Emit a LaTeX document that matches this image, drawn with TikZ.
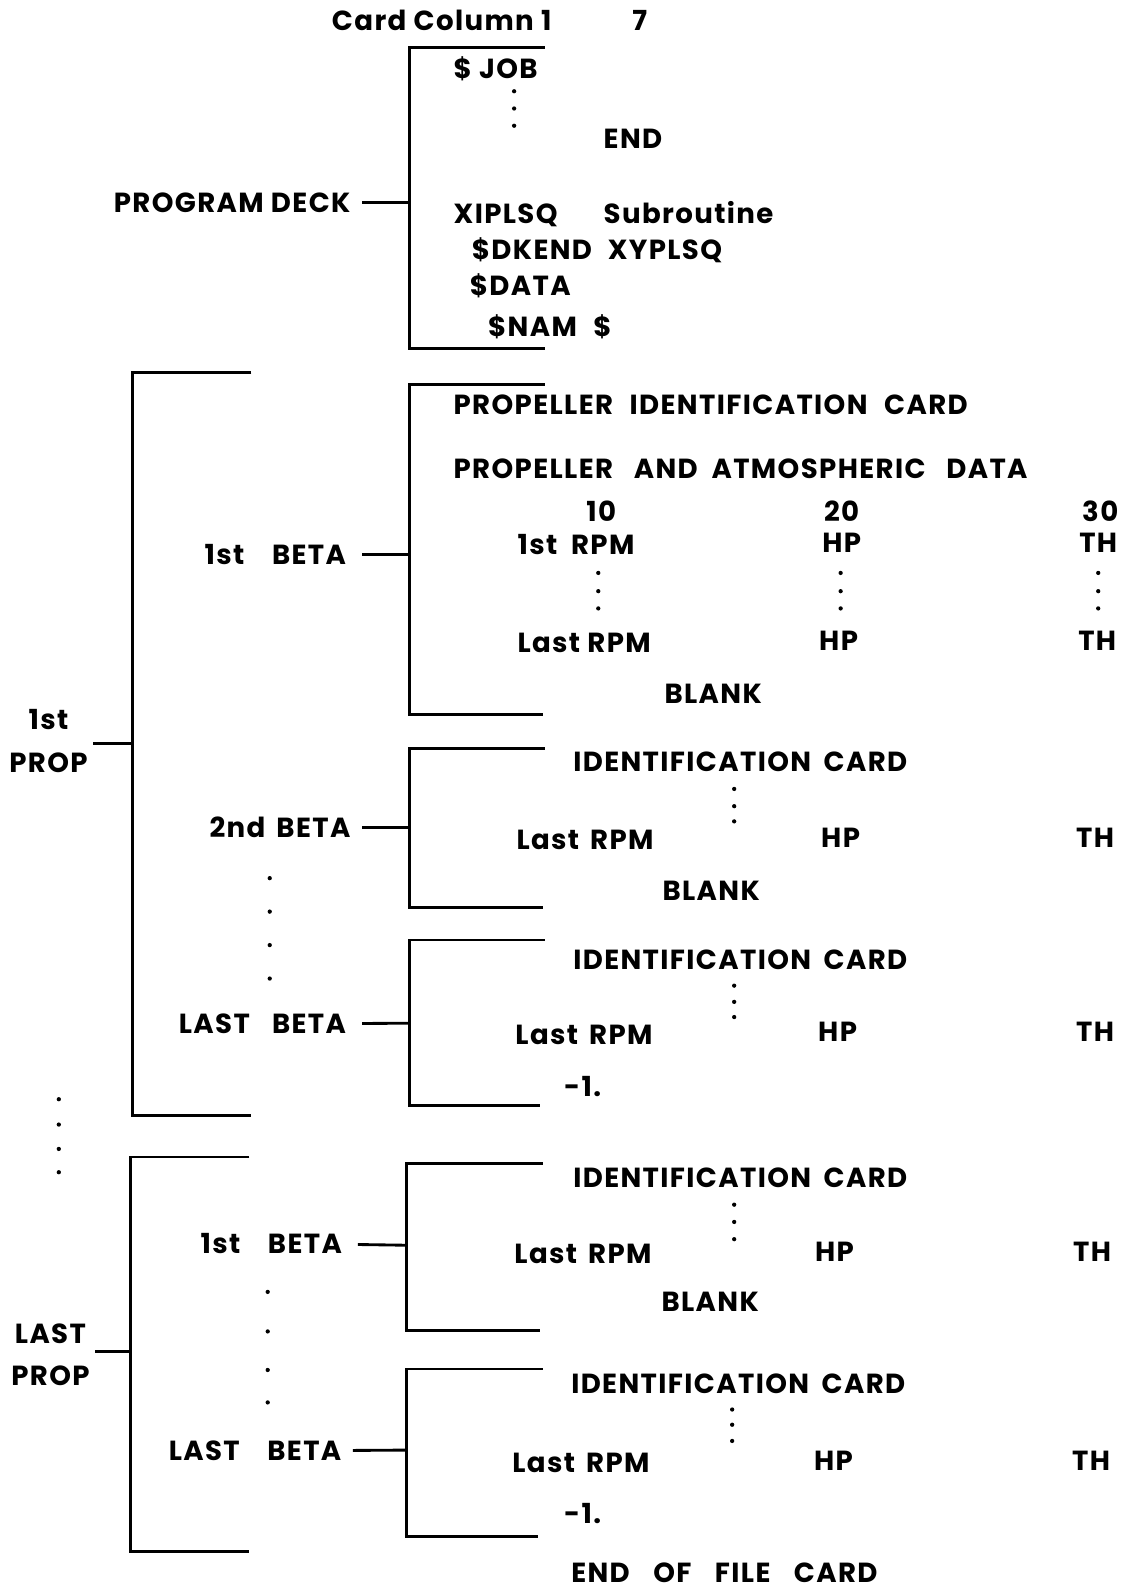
\documentclass[tikz,border=0pt]{standalone}
\usepackage{fontspec}
\setmainfont{Poppins}[LetterSpace=5]
\usetikzlibrary{positioning}
\newcommand\cardfont{\fontsize{15.5}{24}\selectfont\bfseries}
\tikzset{
  bracket/.style={line width=1.6pt},
  stub/.style={line width=1.6pt},
  cardtext/.style={anchor=west, inner sep=0pt, text height=11pt, text depth=0pt, font=\cardfont},
  colhead/.style={inner sep=0pt, text height=11pt, text depth=0pt, font=\cardfont},
  decklabel/.style={anchor=east, inner sep=0pt, outer sep=0pt, inner xsep=6.5pt,
    text height=11pt, text depth=0pt, font=\cardfont},
  proplabel/.style={anchor=east, inner sep=0pt, inner xsep=3pt, align=center, font=\cardfont},
  dot/.style={fill=black}
}
\begin{document}
\begin{tikzpicture}[x=0.02cm, y=-0.02cm]
  \useasboundingbox (0,0) rectangle (1113,1568);
  % heading
  \node[cardtext] (cardcol) at (327,20) {Card Column 1};
  \node[colhead] (colseven) at (631,20) {7};

  % program deck
  \coordinate (pdtop) at (537,47);
  \coordinate (pdmid) at (404,200);
  \coordinate (pdbot) at (537,344);
  \node[decklabel] (pdlab) at (357,200) {PROGRAM DECK};
  \draw[bracket] (pdtop) -| (pdmid) |- (pdbot);
  \draw[stub] (pdlab) -- (pdmid);
  \node[cardtext] (job) at (447,68) {\$ JOB};
  \foreach \y in {90,107,124} \fill[dot] (507,\y) circle (1.2pt);
  \node[cardtext] (endcard) at (595,137) {END};
  \node[cardtext] (xiplsq) at (447,211) {XIPLSQ};
  \node[cardtext] (subr) at (595,211) {Subroutine};
  \node[cardtext] (dkend) at (465,246) {\$DKEND};
  \node[cardtext] (xyplsq) at (599,246) {XYPLSQ};
  \node[cardtext] (datacard) at (463,282) {\$DATA};
  \node[cardtext] (nam) at (481,322) {\$NAM};
  \node[colhead] (namend) at (594,322) {\$};

  % 1st prop
  \coordinate (pfirsttop) at (248,367);
  \coordinate (pfirstmid) at (131,733);
  \coordinate (pfirstbot) at (248,1100);
  \node[proplabel] (pfirstlab) at (92,731) {1st\\PROP};
  \draw[bracket] (pfirsttop) -| (pfirstmid) |- (pfirstbot);
  \draw[stub] (pfirstlab.east |- pfirstmid) -- (pfirstmid);

  % 1st prop, 1st beta
  \coordinate (bonetop) at (537,379);
  \coordinate (bonemid) at (404,547);
  \coordinate (bonebot) at (535,705);
  \node[decklabel, inner xsep=9pt] (bonelab) at (357,547) {1st\hspace{1em}BETA};
  \draw[bracket] (bonetop) -| (bonemid) |- (bonebot);
  \draw[stub] (bonelab) -- (bonemid);
  \node[cardtext] (propid) at (447,399) {PROPELLER\hspace{0.6em}IDENTIFICATION\hspace{0.6em}CARD};
  \node[cardtext] (propatm) at (447,462) {PROPELLER\hspace{0.75em}AND\hspace{0.5em}ATMOSPHERIC\hspace{0.75em}DATA};
  \node[colhead] (colten) at (593,505) {10};
  \node[colhead] (coltwenty) at (830,505) {20};
  \node[colhead] (colthirty) at (1085,505) {30};
  \node[cardtext] (bonefirst) at (510,537) {1st\hspace{0.5em}RPM};
  \node[colhead] (bonehpa) at (830,535) {HP};
  \node[colhead] (bonetha) at (1083,535) {TH};
  \foreach \x in {590,829,1083}
    \foreach \y in {565,583,600} \fill[dot] (\x,\y) circle (1.2pt);
  \node[cardtext] (bonelast) at (510,634) {Last RPM};
  \node[colhead] (bonehpb) at (827,632) {HP};
  \node[colhead] (bonethb) at (1082,632) {TH};
  \node[cardtext] (boneblank) at (655,684) {BLANK};

  % 1st prop, 2nd beta
  \coordinate (btwotop) at (537,738);
  \coordinate (btwomid) at (404,816);
  \coordinate (btwobot) at (535,895);
  \node[decklabel] (btwolab) at (357,816) {2nd\hspace{0.4em}BETA};
  \draw[bracket] (btwotop) -| (btwomid) |- (btwobot);
  \draw[stub] (btwolab) -- (btwomid);
  \node[cardtext] (btwoid) at (565,751) {IDENTIFICATION\hspace{0.45em}CARD};
  \foreach \y in {778,795,810} \fill[dot] (724,\y) circle (1.2pt);
  \node[cardtext] (btwolast) at (509,828) {Last\hspace{0.4em}RPM};
  \node[colhead] (btwohp) at (829,826) {HP};
  \node[colhead] (btwoth) at (1080,826) {TH};
  \node[cardtext] (btwoblank) at (653,878) {BLANK};
  \foreach \y in {866,899,932,965} \fill[dot] (266,\y) circle (1.2pt);

  % 1st prop, last beta
  \coordinate (blasttop) at (537,927);
  \coordinate (blastmid) at (404,1009);
  \coordinate (blastbot) at (533,1090);
  \node[decklabel, inner xsep=9pt] (blastlab) at (357,1010) {LAST\hspace{0.8em}BETA};
  \draw[bracket] (blasttop) -| (blastmid) |- (blastbot);
  \draw[stub] (blastlab) -- (blastmid);
  \node[cardtext] (blastid) at (565,946) {IDENTIFICATION\hspace{0.45em}CARD};
  \foreach \y in {972,988,1003} \fill[dot] (724,\y) circle (1.2pt);
  \node[cardtext] (blastlast) at (508,1020) {Last\hspace{0.4em}RPM};
  \node[colhead] (blasthp) at (826,1017) {HP};
  \node[colhead] (blastth) at (1080,1017) {TH};
  \node[cardtext] (blastneg) at (556,1072) {-1.};
  \foreach \y in {1084,1109,1133,1156} \fill[dot] (58,\y) circle (1.2pt);

  % last prop
  \coordinate (plasttop) at (246,1141);
  \coordinate (plastmid) at (129,1333);
  \coordinate (plastbot) at (246,1530);
  \node[proplabel] (plastlab) at (94,1336) {LAST\\PROP};
  \draw[bracket] (plasttop) -| (plastmid) |- (plastbot);
  \draw[stub] (plastlab.east |- plastmid) -- (plastmid);

  % last prop, 1st beta
  \coordinate (lonetop) at (535,1147);
  \coordinate (lonemid) at (401,1228);
  \coordinate (lonebot) at (533,1312);
  \node[decklabel, inner xsep=9pt] (lonelab) at (353,1226) {1st\hspace{1em}BETA};
  \draw[bracket] (lonetop) -| (lonemid) |- (lonebot);
  \draw[stub] (lonelab) -- (lonemid);
  \node[cardtext] (loneid) at (565,1161) {IDENTIFICATION\hspace{0.45em}CARD};
  \foreach \y in {1188,1205,1222} \fill[dot] (724,\y) circle (1.2pt);
  \node[cardtext] (lonelast) at (507,1236) {Last\hspace{0.4em}RPM};
  \node[colhead] (lonehp) at (823,1234) {HP};
  \node[colhead] (loneth) at (1077,1234) {TH};
  \node[cardtext] (loneblank) at (652,1284) {BLANK};
  \foreach \y in {1274,1313,1351,1383} \fill[dot] (264,\y) circle (1.2pt);

  % last prop, last beta
  \coordinate (llasttop) at (535,1350);
  \coordinate (llastmid) at (401,1430);
  \coordinate (llastbot) at (531,1515);
  \node[decklabel] (llastlab) at (348,1431) {LAST\hspace{1em}BETA};
  \draw[bracket] (llasttop) -| (llastmid) |- (llastbot);
  \draw[stub] (llastlab) -- (llastmid);
  \node[cardtext] (llastid) at (563,1365) {IDENTIFICATION\hspace{0.45em}CARD};
  \foreach \y in {1390,1405,1421} \fill[dot] (722,\y) circle (1.2pt);
  \node[cardtext] (llastlast) at (505,1442) {Last\hspace{0.4em}RPM};
  \node[colhead] (llasthp) at (822,1440) {HP};
  \node[colhead] (llastth) at (1076,1440) {TH};
  \node[cardtext] (llastneg) at (556,1493) {-1.};
  \node[cardtext] (eofcard) at (563,1551) {END\hspace{0.85em}OF\hspace{0.85em}FILE\hspace{0.85em}CARD};
\end{tikzpicture}
\end{document}
